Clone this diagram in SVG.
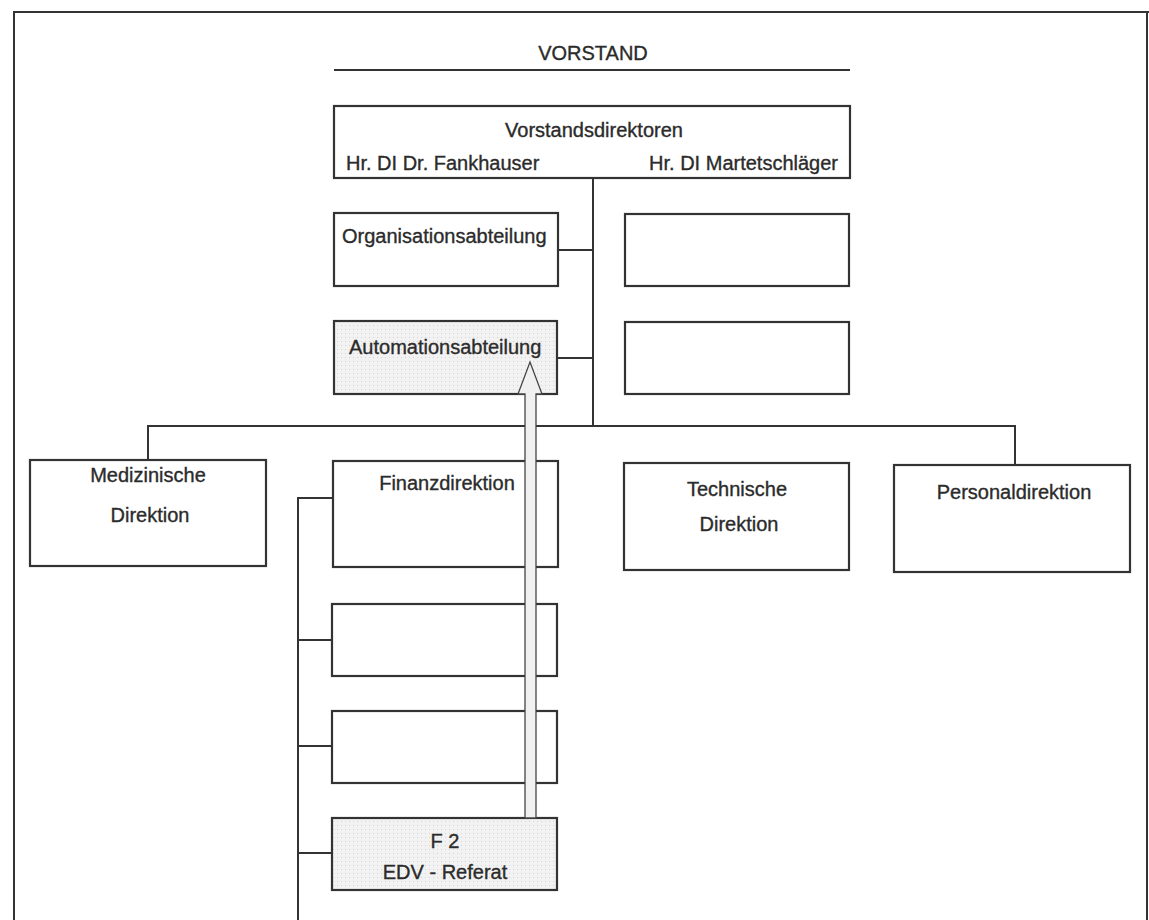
<svg xmlns="http://www.w3.org/2000/svg" width="1149" height="920" viewBox="0 0 1149 920">
<defs>
<pattern id="stip" width="4" height="4" patternUnits="userSpaceOnUse">
<rect width="4" height="4" fill="#f2f2f2"/>
<rect x="1" y="1" width="1" height="1" fill="#d4d4d4"/>
</pattern>
</defs>
<style>
.box{fill:#fff;stroke:#333;stroke-width:2.2}
.grey{fill:url(#stip);stroke:#333;stroke-width:2.2}
.ln{fill:none;stroke:#333;stroke-width:2}
text{font-family:"Liberation Sans",Arial,sans-serif;font-size:20px;fill:#2b2b2b;stroke:#2b2b2b;stroke-width:0.35}
.c{text-anchor:middle}
.e{text-anchor:end}
</style>
<rect width="1149" height="920" fill="#fff"/>
<path class="ln" d="M14,920 V12 H1149" stroke-width="2.5"/>
<path class="ln" d="M1147,12 V920" stroke-width="1.5"/>

<g id="title">
<text class="c" x="593" y="60">VORSTAND</text>
<line x1="334" y1="70" x2="850" y2="70" stroke="#333" stroke-width="2.2"/>
</g>

<g id="connectors">
<path class="ln" d="M593,178 V426"/>
<path class="ln" d="M558,250 H593"/>
<path class="ln" d="M557,358 H593"/>
<path class="ln" d="M148,460 V426 H1015 V465"/>
<path class="ln" d="M333,498 H298 V920"/>
<path class="ln" d="M298,640 H332"/>
<path class="ln" d="M298,746 H332"/>
<path class="ln" d="M298,853 H332"/>
</g>

<g id="vorstandsdirektoren">
<rect class="box" x="334" y="106" width="516" height="72"/>
<text class="c" x="594" y="137">Vorstandsdirektoren</text>
<text x="346" y="170">Hr. DI Dr. Fankhauser</text>
<text class="e" x="838" y="170">Hr. DI Martetschläger</text>
</g>

<g id="organisationsabteilung">
<rect class="box" x="334" y="213" width="224" height="73"/>
<text x="342" y="243">Organisationsabteilung</text>
</g>
<g id="right-empty-1"><rect class="box" x="625" y="214" width="224" height="72"/></g>

<g id="automationsabteilung">
<rect class="grey" x="334" y="321" width="223" height="73"/>
<text x="349" y="354">Automationsabteilung</text>
</g>
<g id="right-empty-2"><rect class="box" x="625" y="322" width="224" height="72"/></g>

<g id="medizinische">
<rect class="box" x="30" y="460" width="236" height="106"/>
<text class="c" x="148" y="482">Medizinische</text>
<text class="c" x="150" y="522">Direktion</text>
</g>

<g id="finanzdirektion">
<rect class="box" x="333" y="461" width="225" height="106"/>
<text class="c" x="447" y="490">Finanzdirektion</text>
</g>

<g id="technische">
<rect class="box" x="624" y="463" width="225" height="107"/>
<text class="c" x="737" y="496">Technische</text>
<text class="c" x="739" y="531">Direktion</text>
</g>

<g id="personaldirektion">
<rect class="box" x="894" y="465" width="236" height="107"/>
<text class="c" x="1014" y="499">Personaldirektion</text>
</g>

<g id="finanz-sub-1"><rect class="box" x="332" y="604" width="225" height="72"/></g>
<g id="finanz-sub-2"><rect class="box" x="332" y="711" width="225" height="72"/></g>

<g id="f2">
<rect class="grey" x="332" y="818" width="225" height="72"/>
<text class="c" x="445" y="848">F 2</text>
<text class="c" x="445" y="879">EDV - Referat</text>
</g>

<g id="arrow">
<path d="M525,818 V394 H518 L530,362 L542,394 H536 V818 Z" fill="#f0f0f0" stroke="#444" stroke-width="1.3"/>
</g>
</svg>
